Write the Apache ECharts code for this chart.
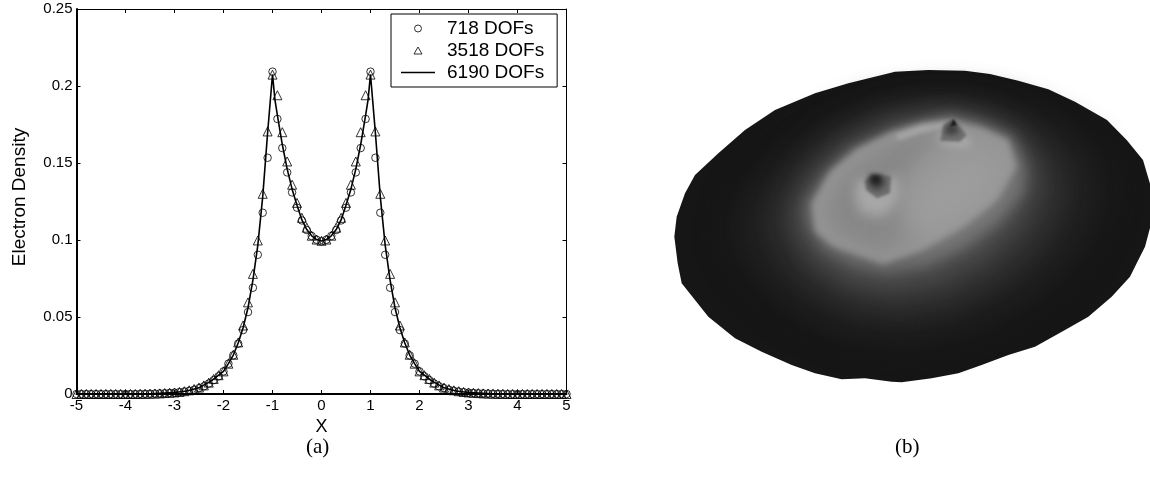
<!DOCTYPE html>
<html><head><meta charset="utf-8">
<style>html,body{margin:0;padding:0;background:#fff}#c{width:1150px;height:496px}</style>
<script src="https://cdn.jsdelivr.net/npm/echarts@6/dist/echarts.min.js"></script>
</head><body><div id="c"></div>
<script>
const xTicksMin = -5, xTicksMax = 5;
const xValues = [-5,-4.9,-4.8,-4.7,-4.6,-4.5,-4.4,-4.3,-4.2,-4.1,-4,-3.9,-3.8,-3.7,-3.6,-3.5,-3.4,-3.3,-3.2,-3.1,-3,-2.9,-2.8,-2.7,-2.6,-2.5,-2.4,-2.3,-2.2,-2.1,-2,-1.9,-1.8,-1.7,-1.6,-1.5,-1.4,-1.3,-1.2,-1.1,-1,-0.9,-0.8,-0.7,-0.6,-0.5,-0.4,-0.3,-0.2,-0.1,0,0.1,0.2,0.3,0.4,0.5,0.6,0.7,0.8,0.9,1,1.1,1.2,1.3,1.4,1.5,1.6,1.7,1.8,1.9,2,2.1,2.2,2.3,2.4,2.5,2.6,2.7,2.8,2.9,3,3.1,3.2,3.3,3.4,3.5,3.6,3.7,3.8,3.9,4,4.1,4.2,4.3,4.4,4.5,4.6,4.7,4.8,4.9,5];
const dof718 = [0,0,0,0,0,0,0,0,0,0,0,0,0,0.0001,0.0001,0.0002,0.0003,0.0004,0.0005,0.0007,0.0009,0.0012,0.0016,0.0021,0.0028,0.0038,0.005,0.0068,0.009,0.0115,0.0147,0.0197,0.0251,0.0327,0.0415,0.0532,0.069,0.0904,0.1177,0.1534,0.2093,0.1786,0.1597,0.1439,0.1309,0.121,0.1127,0.1065,0.1026,0.1002,0.0991,0.1002,0.1026,0.1065,0.1127,0.121,0.1309,0.1439,0.1597,0.1786,0.2093,0.1534,0.1177,0.0904,0.069,0.0532,0.0415,0.0327,0.0251,0.0197,0.0147,0.0115,0.009,0.0068,0.005,0.0038,0.0028,0.0021,0.0016,0.0012,0.0009,0.0007,0.0005,0.0004,0.0003,0.0002,0.0001,0.0001,0,0,0,0,0,0,0,0,0,0,0,0,0];
const dof3518 = [0,0,0,0,0,0,0,0,0,0,0,0,0,0.0001,0.0001,0.0002,0.0003,0.0004,0.0006,0.0008,0.001,0.0013,0.0018,0.0024,0.0032,0.0042,0.0056,0.0074,0.0098,0.0122,0.0147,0.0197,0.0255,0.0335,0.0445,0.0595,0.078,0.0997,0.13,0.1705,0.2074,0.194,0.17,0.151,0.1359,0.1241,0.1144,0.108,0.1028,0.1003,0.0995,0.1003,0.1028,0.108,0.1144,0.1241,0.1359,0.151,0.17,0.194,0.2074,0.1705,0.13,0.0997,0.078,0.0595,0.0445,0.0335,0.0255,0.0197,0.0147,0.0122,0.0098,0.0074,0.0056,0.0042,0.0032,0.0024,0.0018,0.0013,0.001,0.0008,0.0006,0.0004,0.0003,0.0002,0.0001,0.0001,0,0,0,0,0,0,0,0,0,0,0,0,0];
const lineX = [-5,-4,-3.5,-3,-2.75,-2.5,-2.25,-2,-1.9,-1.8,-1.7,-1.6,-1.5,-1.4,-1.3,-1.2,-1.1,-1,-0.95,-0.9,-0.8,-0.7,-0.6,-0.5,-0.4,-0.3,-0.2,-0.1,0,0.1,0.2,0.3,0.4,0.5,0.6,0.7,0.8,0.9,0.95,1,1.1,1.2,1.3,1.4,1.5,1.6,1.7,1.8,1.9,2,2.25,2.5,2.75,3,3.5,4,5];
const dof6190 = [0,0,0.0002,0.001,0.0019,0.004,0.0085,0.0147,0.0197,0.0253,0.0331,0.043,0.056,0.074,0.0965,0.128,0.1695,0.2075,0.191,0.181,0.162,0.146,0.133,0.1225,0.113,0.1068,0.1027,0.1003,0.0993,0.1003,0.1027,0.1068,0.113,0.1225,0.133,0.146,0.162,0.181,0.191,0.2075,0.1695,0.128,0.0965,0.074,0.056,0.043,0.0331,0.0253,0.0197,0.0147,0.0085,0.004,0.0019,0.001,0.0002,0,0];
const yTickText = {0:'0',0.05:'0.05',0.1:'0.1',0.15:'0.15',0.2:'0.2',0.25:'0.25'};
const seriesNames = ['718 DOFs','3518 DOFs','6190 DOFs'];

// Panel (b): grey surface image. Each band: [grey, blur, outline] in the panel's own value space.
const surfaceOutline = [[690,35],[790,30],[900,32],[975,42],[1060,62],[1150,88],[1230,125],[1326,180],[1385,240],[1434,300],[1458,381],[1464,440],[1456,500],[1440,560],[1420,600],[1395,650],[1340,710],[1270,770],[1200,810],[1110,860],[1030,885],[950,915],[880,940],[800,955],[710,967],[680,965],[600,955],[530,958],[450,940],[380,915],[290,875],[210,835],[130,770],[50,670],[38,610],[28,530],[35,470],[60,400],[90,345],[160,280],[240,210],[330,150],[450,100],[550,70]];
const surfaceBands = [
 ['#1d1d1d',30,[[800,105],[950,112],[1100,150],[1220,205],[1300,275],[1340,360],[1320,480],[1240,610],[1120,720],[950,810],[760,860],[560,840],[390,770],[260,660],[180,540],[210,420],[300,310],[440,205],[610,130]]],
 ['#282828',30,[[810,125],[950,135],[1080,175],[1180,240],[1240,330],[1240,440],[1170,570],[1060,670],[900,750],[720,790],[550,770],[410,700],[310,600],[270,500],[300,410],[380,310],[500,210],[650,145]]],
 ['#383838',26,[[830,140],[960,160],[1060,210],[1130,280],[1170,350],[1160,450],[1090,560],[980,650],[840,720],[680,740],[540,710],[430,640],[360,540],[345,450],[400,350],[500,250],[650,170]]],
 ['#4e4e4e',20,[[845,155],[950,180],[1050,225],[1105,310],[1110,390],[1055,500],[950,595],[820,660],[680,685],[550,660],[450,595],[395,510],[395,430],[450,340],[540,260],[680,190]]],
 ['#6a6a6a',12,[[860,165],[950,190],[1040,230],[1080,320],[1075,400],[1000,490],[900,565],[780,620],[660,640],[560,615],[470,565],[425,490],[420,430],[480,340],[560,265],[700,205]]],
 ['#949494',6,[[865,178],[775,188],[675,218],[575,268],[495,335],[440,430],[450,515],[505,560],[655,612],[775,570],[895,500],[995,420],[1055,320],[1030,240],[955,205],[895,190]]],
 ['#888888',18,[[840,205],[740,225],[640,270],[550,335],[490,420],[490,490],[550,540],[650,575],[760,530],[720,450],[700,380],[760,300]]],
 ['#9e9e9e',34,[[940,260],[1020,300],[1000,400],[900,480],[800,530],[730,540],[720,430],[790,340],[860,290]]],
 ['#a6a6a6',4,[[860,184],[760,200],[690,225],[700,240],[770,218],[860,196]]],
 ['#a8a8a8',12,[[575,360],[700,350],[700,420],[655,470],[590,460],[570,415]]],
 ['#6e6e6e',3,[[625,342],[678,348],[675,400],[637,415],[603,390],[600,360]]],
 ['#3c3c3c',6,[[612,350],[660,350],[656,380],[632,392],[610,372]]],
 ['#1a1a1a',5,[[616,344],[648,348],[644,368],[620,368]]],
 ['#aaaaaa',8,[[825,210],[900,220],[925,262],[880,262],[825,252]]],
 ['#6e6e6e',3,[[865,175],[905,225],[885,245],[825,243],[835,195]]],
 ['#424242',5,[[862,182],[885,215],[860,226],[838,220],[846,195]]],
 ['#1c1c1c',2,[[865,176],[876,196],[856,199]]]
];

const chart = echarts.init(document.getElementById('c'), null, {renderer:'canvas'});
const sans = '"Liberation Sans", Arial, sans-serif';
const serif = '"Liberation Serif", "Times New Roman", serif';
const tick = {show:true,inside:true,length:4,lineStyle:{color:'#000',width:1}};
const OFF = 3000;
const hollowIcon = {color:'rgba(0,0,0,0)',borderColor:'#000',borderWidth:1};

chart.setOption({
  animation:false,
  backgroundColor:'#fff',
  grid:[
    {left:76.5,top:9,width:490,height:385,show:false},
    {left:665,top:60,width:480,height:340,show:false}
  ],
  xAxis:[
    {type:'value',gridIndex:0,min:xTicksMin,max:xTicksMax,interval:1,position:'bottom',
     name:'X',nameLocation:'middle',nameGap:24,nameTextStyle:{fontFamily:sans,fontSize:18,color:'#000'},
     axisLine:{show:true,onZero:false,lineStyle:{color:'#000',width:2}},
     axisTick:tick,
     axisLabel:{show:true,margin:4,fontFamily:sans,fontSize:15,color:'#000',showMinLabel:true,showMaxLabel:true},
     splitLine:{show:false}},
    {type:'value',gridIndex:0,min:xTicksMin,max:xTicksMax,interval:1,position:'top',
     axisLine:{show:true,onZero:false,lineStyle:{color:'#000',width:1}},axisTick:tick,
     axisLabel:{show:false},splitLine:{show:false}},
    {type:'value',gridIndex:1,min:0,max:1440,show:false,splitLine:{show:false}}
  ],
  yAxis:[
    {type:'value',gridIndex:0,min:0,max:0.25,interval:0.05,position:'left',
     name:'Electron Density',nameLocation:'middle',nameGap:47,
     nameTextStyle:{fontFamily:sans,fontSize:19,color:'#000',padding:[0,0,0,9]},
     axisLine:{show:true,onZero:false,lineStyle:{color:'#000',width:2}},
     axisTick:tick,
     axisLabel:{show:true,margin:4,fontFamily:sans,fontSize:15,color:'#000',showMinLabel:true,showMaxLabel:true,
       formatter:v=>yTickText[Math.round(v*100)/100]},
     splitLine:{show:false}},
    {type:'value',gridIndex:0,min:0,max:0.25,interval:0.05,position:'right',
     axisLine:{show:true,onZero:false,lineStyle:{color:'#000',width:1}},axisTick:tick,
     axisLabel:{show:false},splitLine:{show:false}},
    {type:'value',gridIndex:1,min:0,max:1020,inverse:true,show:false,splitLine:{show:false}}
  ],
  legend:{
    show:true,left:391,top:14,orient:'vertical',
    padding:[5,13,5,10],itemGap:3,itemWidth:34,itemHeight:7,
    borderColor:'#000',borderWidth:1,backgroundColor:'#fff',
    textStyle:{fontFamily:sans,fontSize:19,color:'#000',padding:[0,0,0,7]},
    selectedMode:false,z:20,
    data:[
      {name:seriesNames[0],icon:'circle',itemStyle:hollowIcon},
      {name:seriesNames[1],icon:'path://M4,0 L8,7 L0,7 Z',itemStyle:hollowIcon},
      {name:seriesNames[2],icon:'path://M0,0 L68,0 L68,3 L0,3 Z'}
    ]
  },
  graphic:[
    {type:'text',left:306,top:437,style:{text:'(a)',font:'21px '+serif,fill:'#000'}},
    {type:'text',left:895,top:437,style:{text:'(b)',font:'21px '+serif,fill:'#000'}}
  ],
  series:[
    {type:'custom',name:'surfaceBase',xAxisIndex:2,yAxisIndex:2,silent:true,clip:false,z:1,
     data:[[0]],encode:{x:0,y:0},
     renderItem:(params,api)=>({type:'polygon',shape:{points:surfaceOutline.map(p=>api.coord(p))},
       style:{fill:'#161616'}})},
    {type:'custom',name:'surface',xAxisIndex:2,yAxisIndex:2,silent:true,clip:false,z:2,
     data:surfaceBands.map((b,i)=>[i]),encode:{x:0,y:0},
     renderItem:(params,api)=>{
       const b = surfaceBands[params.dataIndex];
       return {type:'polygon',shape:{points:b[2].map(p=>{const c=api.coord(p);return [c[0]-OFF,c[1]];})},
         style:{fill:b[0],shadowBlur:b[1],shadowColor:b[0],shadowOffsetX:OFF}};
     }},
    {type:'line',name:seriesNames[2],xAxisIndex:0,yAxisIndex:0,data:lineX.map((x,i)=>[x,dof6190[i]]),
     showSymbol:false,symbol:'none',lineStyle:{color:'#000',width:1.6},itemStyle:{color:'#000'},z:3,clip:false},
    {type:'scatter',name:seriesNames[0],xAxisIndex:0,yAxisIndex:0,data:xValues.map((x,i)=>[x,dof718[i]]),
     symbol:'circle',symbolSize:7.5,itemStyle:{color:'rgba(0,0,0,0)',borderColor:'#000',borderWidth:1},z:4,clip:false},
    {type:'scatter',name:seriesNames[1],xAxisIndex:0,yAxisIndex:0,data:xValues.map((x,i)=>[x,dof3518[i]]),
     symbol:'triangle',symbolSize:9,itemStyle:{color:'rgba(0,0,0,0)',borderColor:'#000',borderWidth:1},z:4,clip:false}
  ]
});
</script></body></html>
